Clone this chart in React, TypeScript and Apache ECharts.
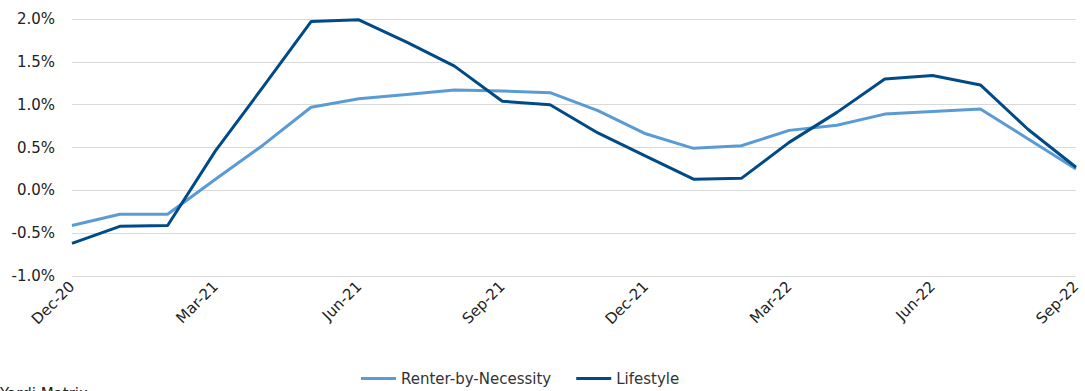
import React, { useEffect, useRef } from "react";
import * as echarts from "echarts";

const months = [
  "Dec-20", "Jan-21", "Feb-21", "Mar-21", "Apr-21", "May-21", "Jun-21", "Jul-21",
  "Aug-21", "Sep-21", "Oct-21", "Nov-21", "Dec-21", "Jan-22", "Feb-22", "Mar-22",
  "Apr-22", "May-22", "Jun-22", "Jul-22", "Aug-22", "Sep-22",
];
const renterByNecessity = [
  -0.41, -0.28, -0.28, 0.13, 0.53, 0.97, 1.07, 1.12, 1.17, 1.16, 1.14, 0.93,
  0.66, 0.49, 0.52, 0.7, 0.76, 0.89, 0.92, 0.95, 0.6, 0.25,
];
const lifestyle = [
  -0.62, -0.42, -0.41, 0.46, 1.21, 1.97, 1.99, 1.73, 1.45, 1.04, 1.0, 0.67,
  0.4, 0.13, 0.14, 0.56, 0.91, 1.3, 1.34, 1.23, 0.71, 0.27,
];
const seriesNames = ["Renter-by-Necessity", "Lifestyle"];
const sourceText = "Yardi Matrix";

export default function App() {
  const ref = useRef<HTMLDivElement>(null);
  useEffect(() => {
    if (!ref.current) return;
    const chart = echarts.init(ref.current, null, { renderer: "svg" });
    const font = "'DejaVu Sans', 'Noto Sans', sans-serif";
    chart.setOption({
      animation: false,
      textStyle: { fontFamily: font },
      grid: { left: 72, right: 9, top: 19, bottom: 115 },
      legend: {
        top: 366,
        left: 356,
        itemWidth: 35,
        itemHeight: 3,
        itemGap: 25,
        icon: "rect",
        textStyle: { fontSize: 15, color: "#333", fontFamily: font },
        data: seriesNames,
      },
      xAxis: {
        type: "category",
        data: months,
        boundaryGap: false,
        axisLine: { show: false },
        axisTick: { show: false },
        axisLabel: {
          interval: 2,
          rotate: 45,
          fontSize: 15,
          color: "#222",
          margin: 8,
          fontFamily: font,
        },
      },
      yAxis: {
        type: "value",
        min: -1,
        max: 2,
        interval: 0.5,
        axisLine: { show: false },
        axisTick: { show: false },
        splitLine: { lineStyle: { color: "#d9d9d9", width: 1 } },
        axisLabel: {
          fontSize: 15,
          color: "#222",
          margin: 17,
          fontFamily: font,
          formatter: (v: number) => v.toFixed(1) + "%",
        },
      },
      graphic: [
        {
          type: "text",
          left: 0,
          top: 386,
          style: { text: sourceText, fontSize: 15, fill: "#222", fontFamily: font },
        },
      ],
      series: [
        {
          name: seriesNames[0],
          type: "line",
          data: renterByNecessity,
          symbol: "none",
          lineStyle: { color: "#5b9bd5", width: 3 },
          itemStyle: { color: "#5b9bd5" },
        },
        {
          name: seriesNames[1],
          type: "line",
          data: lifestyle,
          symbol: "none",
          lineStyle: { color: "#004b87", width: 3 },
          itemStyle: { color: "#004b87" },
        },
      ],
    });
    return () => chart.dispose();
  }, []);
  return (
    <div
      ref={ref}
      style={{ position: "fixed", left: 0, top: 0, width: 1085, height: 391, background: "#fff" }}
    />
  );
}
